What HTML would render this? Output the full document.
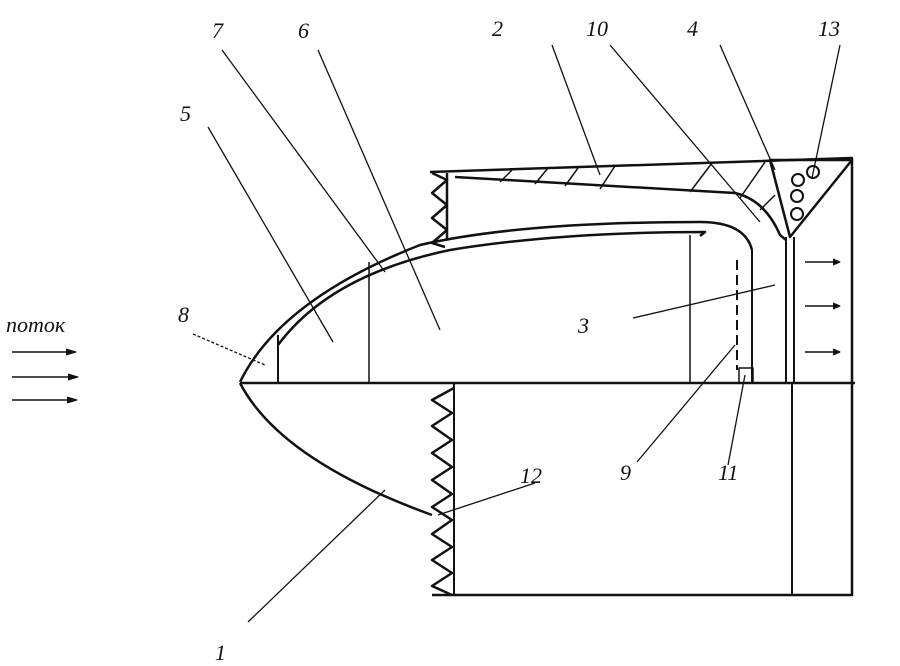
<!DOCTYPE html>
<html><head><style>body{margin:0;background:#fff}svg{display:block}text{font-family:"Liberation Serif",serif;font-style:italic;font-size:22px;fill:#111}</style></head><body>
<svg width="900" height="666" viewBox="0 0 900 666" xmlns="http://www.w3.org/2000/svg" fill="none" stroke="#111" stroke-width="2.5" stroke-linejoin="round">
<!-- housing -->
<path d="M430 172 L852 158 L852 595 L432 595"/>
<line x1="447" y1="173" x2="447" y2="240"/>
<path d="M432 173 L447 180 L432 193 L447 205 L432 218 L447 230 L432 243 L445 247"/>
<line x1="240" y1="383" x2="855" y2="383"/>
<line x1="454" y1="383" x2="454" y2="595" stroke-width="2"/>
<path d="M454 388 L432 400 L452 413 L432 426 L452 440 L432 453 L452 467 L432 480 L452 494 L432 507 L452 520 L432 534 L452 547 L432 560 L452 573 L432 586 L452 595"/>
<!-- liner -->
<path d="M455 177 L735 193 Q765 200 780 235 L786 240"/>
<path d="M770 160 L852 160 L790 237 Z"/>
<g stroke-width="1.5"><line x1="500" y1="182" x2="512" y2="170"/><line x1="535" y1="184" x2="548" y2="168"/><line x1="565" y1="186" x2="578" y2="168"/><line x1="600" y1="189" x2="615" y2="166"/><line x1="690" y1="192" x2="712" y2="163"/><line x1="740" y1="198" x2="765" y2="162"/><line x1="760" y1="210" x2="775" y2="195"/></g>
<circle cx="798" cy="180" r="6" stroke-width="2"/><circle cx="813" cy="172" r="6" stroke-width="2"/><circle cx="797" cy="196" r="6" stroke-width="2"/><circle cx="797" cy="214" r="6" stroke-width="2"/>
<line x1="786" y1="237" x2="786" y2="383" stroke-width="2"/><line x1="794" y1="237" x2="794" y2="383" stroke-width="2"/>
<line x1="792" y1="383" x2="792" y2="595" stroke-width="2"/>
<g stroke-width="1.5"><line x1="805" y1="262" x2="838" y2="262"/><line x1="805" y1="306" x2="838" y2="306"/><line x1="805" y1="352" x2="838" y2="352"/></g>
<path d="M833 259 L840 262 L833 265 M833 303 L840 306 L833 309 M833 349 L840 352 L833 355" fill="#111" stroke-width="1"/>
<!-- cone -->
<path d="M240 382 Q280 300 420 245 Q520 222 700 222 Q745 222 752 250"/>
<path d="M278 345 Q330 275 450 250 Q560 232 705 232 L700 236"/>
<line x1="752" y1="250" x2="752" y2="383" stroke-width="2"/>
<line x1="737" y1="260" x2="737" y2="370" stroke-dasharray="10 5" stroke-width="2"/>
<rect x="739" y="368" width="14" height="15" stroke-width="1.5"/>
<line x1="278" y1="335" x2="278" y2="383" stroke-width="2"/>
<line x1="369" y1="262" x2="369" y2="383" stroke-width="1.5"/>
<line x1="690" y1="235" x2="690" y2="383" stroke-width="1.5"/>
<path d="M240 383 Q280 460 432 515"/>
<!-- flow -->
<g stroke-width="1.5"><line x1="12" y1="352" x2="75" y2="352"/><line x1="12" y1="377" x2="77" y2="377"/><line x1="12" y1="400" x2="76" y2="400"/></g>
<path d="M66 349 L76 352 L66 355 M68 374 L78 377 L68 380 M67 397 L77 400 L67 403" fill="#111" stroke-width="1"/>
<!-- leaders -->
<g stroke-width="1.3">
<line x1="222" y1="50" x2="385" y2="272"/><line x1="318" y1="50" x2="440" y2="330"/>
<line x1="552" y1="45" x2="600" y2="175"/><line x1="610" y1="45" x2="760" y2="222"/>
<line x1="720" y1="45" x2="775" y2="170"/><line x1="840" y1="45" x2="812" y2="178"/>
<line x1="208" y1="127" x2="333" y2="342"/><line x1="193" y1="334" x2="265" y2="365" stroke-dasharray="3 2"/>
<line x1="633" y1="318" x2="775" y2="285"/><line x1="637" y1="462" x2="735" y2="345"/>
<line x1="728" y1="465" x2="745" y2="375"/><line x1="535" y1="483" x2="438" y2="515"/>
<line x1="248" y1="622" x2="385" y2="490"/>
</g>
<g stroke="none">
<text x="212" y="38">7</text><text x="298" y="38">6</text><text x="492" y="36">2</text><text x="586" y="36">10</text>
<text x="687" y="36">4</text><text x="818" y="36">13</text><text x="180" y="121">5</text><text x="178" y="322">8</text>
<text x="578" y="333">3</text><text x="620" y="480">9</text><text x="718" y="480">11</text><text x="520" y="483">12</text>
<text x="215" y="660">1</text><text x="6" y="332">поток</text>
</g>
</svg>
</body></html>
